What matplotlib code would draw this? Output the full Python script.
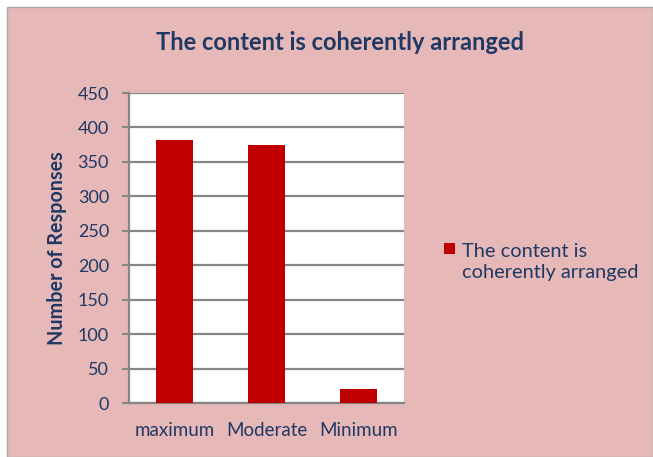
import matplotlib.pyplot as plt
from matplotlib.patches import Rectangle

# Data
categories = ['maximum', 'Moderate', 'Minimum']
responses = [382, 375, 21]
series_name = 'The content is\ncoherently arranged'

W, H = 653, 457
navy = '#1F3864'
pink = '#E6B9B8'
bar_red = '#C00000'
grid_gray = '#868686'

plt.rcParams['font.family'] = ['Lato', 'DejaVu Sans']

fig = plt.figure(figsize=(W / 100, H / 100), dpi=100)
fig.patch.set_facecolor('white')
# pink chart area with thin gray border
fig.patches.append(Rectangle((7 / W, 0), 1 - 7 / W, 1 - 7 / H, transform=fig.transFigure,
                             facecolor=pink, edgecolor='#A6A6A6', linewidth=1.0, zorder=-5))

ax = fig.add_axes([129 / W, 1 - 403 / H, (404 - 129) / W, (403 - 93) / H])
ax.set_facecolor('white')
ax.bar(range(len(categories)), responses, width=0.4, color=bar_red, zorder=3)

ax.set_ylim(0, 450)
ax.set_yticks(range(0, 451, 50))
ax.set_xlim(-0.5, 2.5)
ax.set_xticks(range(len(categories)))
ax.set_xticklabels(categories)
ax.yaxis.grid(True, color=grid_gray, linewidth=1.6, zorder=1)
ax.tick_params(axis='y', colors=grid_gray, length=5, width=1.5, labelcolor=navy, labelsize=13, pad=9.4)
ax.tick_params(axis='x', length=0, labelcolor=navy, labelsize=13.5, pad=14)
for s in ['top', 'right']:
    ax.spines[s].set_visible(False)
ax.spines['left'].set_color(grid_gray)
ax.spines['left'].set_linewidth(1.6)
ax.spines['bottom'].set_color(grid_gray)
ax.spines['bottom'].set_linewidth(1.6)

fig.text(57 / W, 1 - 248 / H, 'Number of Responses', color=navy, fontsize=14.2,
         fontweight='bold', rotation=90, ha='center', va='center')

fig.text(340 / W, 1 - 42 / H, 'The content is coherently arranged', color=navy,
         fontsize=17, fontweight='bold', ha='center', va='center')

# legend
fig.patches.append(Rectangle((444 / W, 1 - 254 / H), 11 / W, 11 / H, transform=fig.transFigure,
                             facecolor=bar_red, edgecolor='none'))
fig.text(462 / W, 1 - 262 / H, series_name, color=navy, fontsize=14.4, ha='left', va='center',
         linespacing=1.3)

fig.savefig('out.png', dpi=100, facecolor=fig.get_facecolor())
